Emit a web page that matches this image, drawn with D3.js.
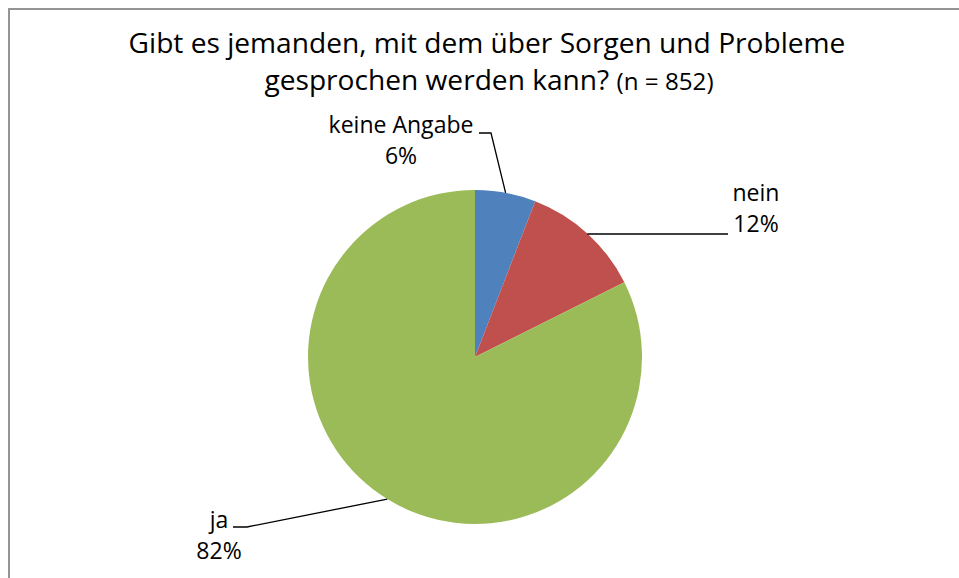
<!DOCTYPE html>
<html>
<head>
<meta charset="utf-8">
<script src="https://cdn.jsdelivr.net/npm/d3@7"></script>
<style>
  html, body { margin: 0; padding: 0; background: #fff; }
  svg { display: block; }
  text { font-family: "Open Sans", Lato, sans-serif; fill: #000; }
</style>
</head>
<body>
<svg id="chart" width="959" height="578"></svg>
<script>
// ---- data ----
const categories = ["keine Angabe", "nein", "ja"];
const counts = [50, 100, 702];
const colors = ["#4F81BD", "#C0504D", "#9BBB59"];
const titleLine1 = "Gibt es jemanden, mit dem über Sorgen und Probleme";
const titleLine2 = "gesprochen werden kann?";
const titleNote = "(n = 852)";

// ---- layout ----
const W = 959, H = 578;
const cx = 475, cy = 357, R = 167;
const labelLayout = [
  { x: 401, y: 133, knee: [[479, 133], [491, 133]] },
  { x: 756, y: 201, knee: [[728, 234]], anchorY: 234 },
  { x: 219, y: 528, knee: [[233, 527], [247, 527]] }
];

const svg = d3.select("#chart");
svg.append("rect").attr("width", W).attr("height", H).attr("fill", "#fff");
svg.append("rect")
  .attr("x", 9).attr("y", 9).attr("width", W + 20).attr("height", H + 20)
  .attr("fill", "none").attr("stroke", "#898989").attr("stroke-width", 1.8);

// title (font size fitted to the reference line width)
const title = svg.append("text").attr("text-anchor", "middle").style("font-weight", 500);
const l1 = title.append("tspan").attr("x", 487).attr("y", 53)
  .style("font-size", "24px").text(titleLine1);
const s1 = 24 * 717 / l1.node().getComputedTextLength();
l1.style("font-size", s1 + "px");
const t2 = title.append("tspan").attr("x", 489).attr("y", 90);
t2.append("tspan").style("font-size", s1 + "px").text(titleLine2 + " ");
t2.append("tspan").style("font-size", (s1 * 0.86) + "px").style("font-weight", 400).text(titleNote);

// pie
const total = d3.sum(counts);
const pie = d3.pie().sort(null).value(d => d)(counts);
const arc = d3.arc().innerRadius(0).outerRadius(R);
const g = svg.append("g").attr("transform", `translate(${cx},${cy})`);
g.selectAll("path").data(pie).join("path")
  .attr("d", arc)
  .attr("fill", (d, i) => colors[i]);

// label font size fitted to "keine Angabe" width
const probe = svg.append("text").style("font-size", "20px").text(categories[0]);
const ls = 20 * 145 / probe.node().getComputedTextLength();
probe.remove();

pie.forEach((d, i) => {
  const mid = (d.startAngle + d.endAngle) / 2;
  const ax = cx + R * Math.sin(mid), ay = cy - R * Math.cos(mid);
  const L = labelLayout[i];
  const pts = L.knee.slice();
  pts.push([ax, i === 1 ? L.anchorY : ay]);
  svg.append("path")
    .attr("d", d3.line()(pts))
    .attr("fill", "none").attr("stroke", "#000").attr("stroke-width", 1.3);
  const pct = Math.round(counts[i] / total * 100) + "%";
  const t = svg.append("text").attr("text-anchor", "middle").style("font-size", ls + "px");
  t.append("tspan").attr("x", L.x).attr("y", L.y).text(categories[i]);
  t.append("tspan").attr("x", L.x).attr("y", L.y + 31).text(pct);
});
</script>
</body>
</html>
